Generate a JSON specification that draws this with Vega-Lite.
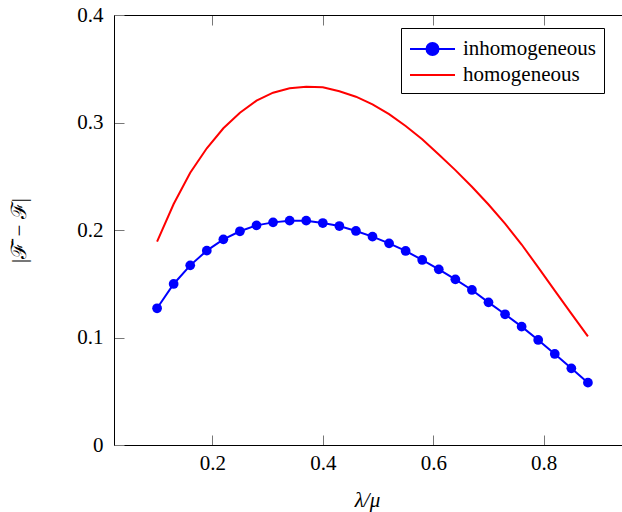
{
  "$schema": "https://vega.github.io/schema/vega-lite/v6.json",
  "autosize": {"type": "none"},
  "padding": {"left": 114, "top": 15, "right": 0, "bottom": 67},
  "width": 517,
  "height": 430,
  "background": "white",
  "config": {"font": "Liberation Serif", "view": {"stroke": null}},
  "data": {"values": [
    {"x": 0.10, "y": 0.1272, "series": "inhomogeneous"},
    {"x": 0.13, "y": 0.1498, "series": "inhomogeneous"},
    {"x": 0.16, "y": 0.1671, "series": "inhomogeneous"},
    {"x": 0.19, "y": 0.1808, "series": "inhomogeneous"},
    {"x": 0.22, "y": 0.1913, "series": "inhomogeneous"},
    {"x": 0.25, "y": 0.1988, "series": "inhomogeneous"},
    {"x": 0.28, "y": 0.2043, "series": "inhomogeneous"},
    {"x": 0.31, "y": 0.2071, "series": "inhomogeneous"},
    {"x": 0.34, "y": 0.2087, "series": "inhomogeneous"},
    {"x": 0.37, "y": 0.2087, "series": "inhomogeneous"},
    {"x": 0.40, "y": 0.2065, "series": "inhomogeneous"},
    {"x": 0.43, "y": 0.2037, "series": "inhomogeneous"},
    {"x": 0.46, "y": 0.1991, "series": "inhomogeneous"},
    {"x": 0.49, "y": 0.1938, "series": "inhomogeneous"},
    {"x": 0.52, "y": 0.1876, "series": "inhomogeneous"},
    {"x": 0.55, "y": 0.1805, "series": "inhomogeneous"},
    {"x": 0.58, "y": 0.1721, "series": "inhomogeneous"},
    {"x": 0.61, "y": 0.1634, "series": "inhomogeneous"},
    {"x": 0.64, "y": 0.1541, "series": "inhomogeneous"},
    {"x": 0.67, "y": 0.1442, "series": "inhomogeneous"},
    {"x": 0.70, "y": 0.1327, "series": "inhomogeneous"},
    {"x": 0.73, "y": 0.1216, "series": "inhomogeneous"},
    {"x": 0.76, "y": 0.1101, "series": "inhomogeneous"},
    {"x": 0.79, "y": 0.0977, "series": "inhomogeneous"},
    {"x": 0.82, "y": 0.0847, "series": "inhomogeneous"},
    {"x": 0.85, "y": 0.0713, "series": "inhomogeneous"},
    {"x": 0.88, "y": 0.0580, "series": "inhomogeneous"},
    {"x": 0.10, "y": 0.1892, "series": "homogeneous"},
    {"x": 0.13, "y": 0.2242, "series": "homogeneous"},
    {"x": 0.16, "y": 0.2533, "series": "homogeneous"},
    {"x": 0.19, "y": 0.2760, "series": "homogeneous"},
    {"x": 0.22, "y": 0.2946, "series": "homogeneous"},
    {"x": 0.25, "y": 0.3091, "series": "homogeneous"},
    {"x": 0.28, "y": 0.3203, "series": "homogeneous"},
    {"x": 0.31, "y": 0.3277, "series": "homogeneous"},
    {"x": 0.34, "y": 0.3318, "series": "homogeneous"},
    {"x": 0.37, "y": 0.3333, "series": "homogeneous"},
    {"x": 0.40, "y": 0.3327, "series": "homogeneous"},
    {"x": 0.43, "y": 0.3290, "series": "homogeneous"},
    {"x": 0.46, "y": 0.3240, "series": "homogeneous"},
    {"x": 0.49, "y": 0.3168, "series": "homogeneous"},
    {"x": 0.52, "y": 0.3078, "series": "homogeneous"},
    {"x": 0.55, "y": 0.2968, "series": "homogeneous"},
    {"x": 0.58, "y": 0.2845, "series": "homogeneous"},
    {"x": 0.61, "y": 0.2703, "series": "homogeneous"},
    {"x": 0.64, "y": 0.2557, "series": "homogeneous"},
    {"x": 0.67, "y": 0.2402, "series": "homogeneous"},
    {"x": 0.70, "y": 0.2237, "series": "homogeneous"},
    {"x": 0.73, "y": 0.2060, "series": "homogeneous"},
    {"x": 0.76, "y": 0.1865, "series": "homogeneous"},
    {"x": 0.79, "y": 0.1652, "series": "homogeneous"},
    {"x": 0.82, "y": 0.1436, "series": "homogeneous"},
    {"x": 0.85, "y": 0.1222, "series": "homogeneous"},
    {"x": 0.88, "y": 0.1010, "series": "homogeneous"}
  ]},
  "resolve": {"axis": {"x": "independent"}},
  "layer": [
    {
      "mark": {"type": "line", "strokeWidth": 2},
      "encoding": {
        "x": {"field": "x", "type": "quantitative",
          "scale": {"domain": [0.022, 0.958], "nice": false, "zero": false},
          "axis": {"orient": "bottom", "values": [0.2, 0.4, 0.6, 0.8], "format": ".1f", "grid": false,
            "domainColor": "#000", "domainWidth": 1, "tickColor": "#777", "tickSize": -10, "tickWidth": 1,
            "labelFont": "Liberation Serif", "labelFontSize": 21, "labelColor": "#000", "labelPadding": 17,
            "title": "λ/μ", "titleFont": "Liberation Serif", "titleFontSize": 21, "titleFontStyle": "italic",
            "titleFontWeight": "normal", "titleColor": "#000", "titlePadding": 16, "titleX": 253}},
        "y": {"field": "y", "type": "quantitative",
          "scale": {"domain": [0, 0.4], "nice": false},
          "axis": {"values": [0, 0.1, 0.2, 0.3, 0.4], "format": ".1~f", "grid": false,
            "domainColor": "#000", "domainWidth": 1, "tickColor": "#777", "tickSize": -10, "tickWidth": 1,
            "labelFont": "Liberation Serif", "labelFontSize": 21, "labelColor": "#000", "labelPadding": 21,
            "title": "|ℱ̄ − ℱ|", "titleFont": "Liberation Serif", "titleFontSize": 21,
            "titleFontWeight": "normal", "titleColor": "#000", "titlePadding": 47}},
        "color": {"field": "series", "type": "nominal",
          "scale": {"domain": ["inhomogeneous", "homogeneous"], "range": ["#0000ff", "#ff0000"]},
          "legend": {"orient": "none", "legendX": 287, "legendY": 13, "title": null,
            "strokeColor": "#000", "fillColor": "#fff", "padding": 8, "cornerRadius": 0,
            "labelFont": "Liberation Serif", "labelFontSize": 21, "labelColor": "#000", "labelOffset": 28,
            "symbolSize": 576, "rowPadding": 3,
            "encode": {"symbols": {"update": {
              "shape": {"signal": "datum.value === 'inhomogeneous' ? 'M-1,0L2.75,0M0.375,0A0.5,0.5 0 1,1 1.375,0A0.5,0.5 0 1,1 0.375,0Z' : 'M-1,0L2.75,0'"},
              "fill": {"signal": "datum.value === 'inhomogeneous' ? '#0000ff' : 'transparent'"},
              "stroke": {"signal": "datum.value === 'inhomogeneous' ? '#0000ff' : '#ff0000'"},
              "strokeWidth": {"value": 2},
              "opacity": {"value": 1}}}}}}
      }
    },
    {
      "transform": [{"filter": "datum.series === 'inhomogeneous'"}],
      "mark": {"type": "point", "filled": true, "size": 95, "opacity": 1, "shape": "circle"},
      "encoding": {
        "x": {"field": "x", "type": "quantitative", "axis": null},
        "y": {"field": "y", "type": "quantitative"},
        "color": {"field": "series", "type": "nominal"}
      }
    },
    {
      "transform": [{"filter": "datum.series === 'homogeneous' && datum.x < 0.11"}],
      "mark": {"type": "point", "opacity": 0},
      "encoding": {
        "x": {"field": "x", "type": "quantitative",
          "axis": {"orient": "top", "values": [0.2, 0.4, 0.6, 0.8], "labels": false, "title": null, "grid": false,
            "domainColor": "#000", "domainWidth": 1, "tickColor": "#777", "tickSize": -10, "tickWidth": 1}},
        "y": {"field": "y", "type": "quantitative"}
      }
    }
  ]
}
